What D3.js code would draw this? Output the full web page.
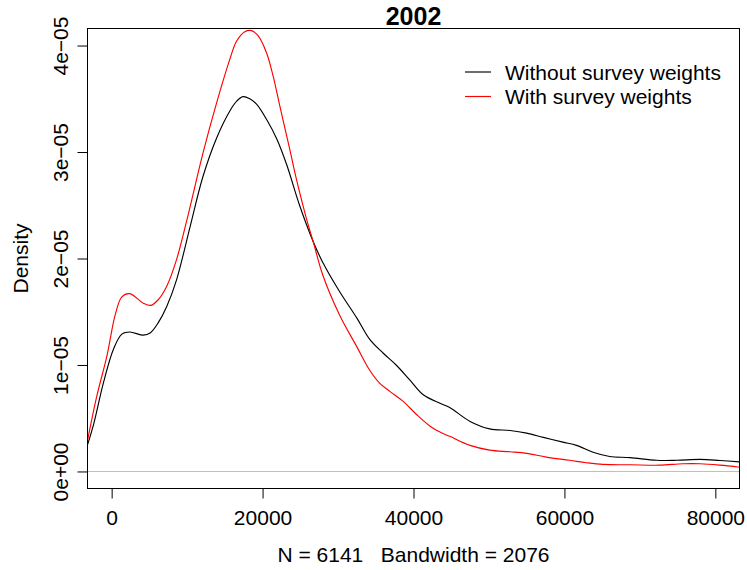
<!DOCTYPE html>
<html lang="en">

<head>
    <meta charset="UTF-8">
    <title>2002 income density</title>
    <script src="https://unpkg.com/d3@7.8.0/dist/d3.min.js"></script>

    <style>
        body {
            margin: 0px;
            background: #ffffff;
        }

        text {
            font-family: "Liberation Sans", Arial, Helvetica, sans-serif;
            fill: #000000;
        }
    </style>
</head>

<body>

    <script>
        // chart text
        const chartTitle = '2002';
        const xAxisLabel = 'N = 6141   Bandwidth = 2076';
        const yAxisLabel = 'Density';

        // legend
        const seriesNames = ['Without survey weights', 'With survey weights'];
        const seriesColors = ['#000000', '#ff0000'];

        // ticks
        const xTicks = [0, 20000, 40000, 60000, 80000];
        const yTicks = [0, 1e-5, 2e-5, 3e-5, 4e-5];
        const yTickLabels = ['0e+00', '1e\u221205', '2e\u221205', '3e\u221205', '4e\u221205'];

        // density without survey weights
        const unweightedX = [-3200, -2400, -1100, 250, 1350, 2400, 4200, 5100, 6200, 7300, 8600,
            10400, 12100, 13900, 15700, 16600, 17400, 18300, 19200, 20500, 21900, 23200, 24900,
            26700, 28000, 30200, 32500, 34200, 36000, 37700, 39500, 41300, 43500, 44800, 47500,
            50100, 52800, 55000, 57200, 59800, 61600, 63800, 66000, 68700, 72200, 74900, 78000,
            80600, 83200];
        const unweightedY = [0.25e-5, 0.44e-5, 0.83e-5, 1.15e-5, 1.29e-5, 1.31e-5, 1.28e-5, 1.30e-5,
            1.40e-5, 1.55e-5, 1.80e-5, 2.30e-5, 2.77e-5, 3.13e-5, 3.39e-5, 3.48e-5, 3.52e-5, 3.50e-5,
            3.45e-5, 3.31e-5, 3.12e-5, 2.88e-5, 2.50e-5, 2.16e-5, 1.96e-5, 1.69e-5, 1.44e-5, 1.24e-5,
            1.11e-5, 1.00e-5, 0.86e-5, 0.72e-5, 0.64e-5, 0.60e-5, 0.47e-5, 0.40e-5, 0.385e-5, 0.36e-5,
            0.32e-5, 0.275e-5, 0.245e-5, 0.18e-5, 0.14e-5, 0.13e-5, 0.105e-5, 0.105e-5, 0.113e-5,
            0.103e-5, 0.09e-5];

        // density with survey weights
        const weightedX = [-3200, -1960, -640, 470, 1350, 2400, 4200, 5200, 6200, 7300, 8600,
            10000, 12100, 13900, 15700, 16550, 17650, 18540, 19420, 20530, 21410, 22290, 23620,
            24500, 25830, 26700, 28000, 30200, 32500, 34200, 35500, 36900, 38600, 40400, 42200,
            43500, 44800, 47500, 50100, 52800, 55000, 57600, 60700, 62900, 65100, 68700, 72600,
            75700, 78000, 80600, 83200];
        const weightedY = [0.29e-5, 0.71e-5, 1.08e-5, 1.47e-5, 1.64e-5, 1.67e-5, 1.58e-5, 1.56e-5,
            1.615e-5, 1.74e-5, 1.99e-5, 2.37e-5, 2.99e-5, 3.46e-5, 3.88e-5, 4.04e-5, 4.13e-5, 4.14e-5,
            4.09e-5, 3.93e-5, 3.71e-5, 3.43e-5, 3.02e-5, 2.74e-5, 2.37e-5, 2.16e-5, 1.84e-5, 1.47e-5,
            1.17e-5, 0.95e-5, 0.83e-5, 0.75e-5, 0.66e-5, 0.535e-5, 0.425e-5, 0.37e-5, 0.33e-5,
            0.245e-5, 0.20e-5, 0.185e-5, 0.17e-5, 0.135e-5, 0.105e-5, 0.082e-5, 0.066e-5, 0.063e-5,
            0.059e-5, 0.072e-5, 0.072e-5, 0.059e-5, 0.04e-5];

        const width = 747;
        const height = 570;
        const margin = { top: 28.5, right: 7.5, bottom: 81.5, left: 87.5 };
        const fontSize = 21;

        render();

        function render() {
            const svg = d3.select('body').append('svg')
                .attr('width', width)
                .attr('height', height);

            const innerwidth = width - margin.left - margin.right;
            const innerheight = height - margin.top - margin.bottom;

            const g = svg.append('g')
                .attr('transform', `translate(${margin.left}, ${margin.top})`);

            // R style: data range padded by 4% on each side
            const xScale = d3.scaleLinear()
                .domain([-3200, 83200])
                .range([0, innerwidth]);

            const yScale = d3.scaleLinear()
                .domain([-0.16e-5, 4.16e-5])
                .range([innerheight, 0]);

            g.append('clipPath')
                .attr('id', 'plot-clip')
                .append('rect')
                .attr('width', innerwidth)
                .attr('height', innerheight);

            // zero line
            g.append('line')
                .attr('x1', 0)
                .attr('x2', innerwidth)
                .attr('y1', yScale(0))
                .attr('y2', yScale(0))
                .attr('stroke', '#bebebe')
                .attr('stroke-width', 1);

            // density curves
            const series = [
                { xs: unweightedX, ys: unweightedY, color: seriesColors[0] },
                { xs: weightedX, ys: weightedY, color: seriesColors[1] }
            ];

            const line = d3.line()
                .x(d => xScale(d[0]))
                .y(d => yScale(d[1]))
                .curve(d3.curveCatmullRom.alpha(0.5));

            g.append('g')
                .attr('clip-path', 'url(#plot-clip)')
                .selectAll('path')
                .data(series)
                .enter().append('path')
                .attr('d', s => line(d3.zip(s.xs, s.ys)))
                .attr('fill', 'none')
                .attr('stroke', s => s.color)
                .attr('stroke-width', 1.15);

            // X axis
            const xAxisG = g.append('g')
                .attr('transform', `translate(0, ${innerheight})`)
                .call(d3.axisBottom(xScale)
                    .tickValues(xTicks)
                    .tickFormat(d3.format('d'))
                    .tickSize(10));
            xAxisG.select('.domain').remove();
            xAxisG.selectAll('.tick line').attr('stroke', '#000');
            xAxisG.selectAll('.tick text')
                .attr('y', 36)
                .attr('dy', 0)
                .style('font-size', fontSize + 'px');

            // Y axis, labels rotated like R's las = 0
            const yAxisG = g.append('g')
                .call(d3.axisLeft(yScale)
                    .tickValues(yTicks)
                    .tickFormat((d, i) => yTickLabels[i])
                    .tickSize(10));
            yAxisG.select('.domain').remove();
            yAxisG.selectAll('.tick line').attr('stroke', '#000');
            yAxisG.selectAll('.tick text')
                .attr('transform', 'rotate(-90)')
                .attr('x', 0)
                .attr('y', -27)
                .attr('dy', '0.36em')
                .attr('text-anchor', 'middle')
                .style('font-size', fontSize + 'px');

            // box
            g.append('rect')
                .attr('width', innerwidth)
                .attr('height', innerheight)
                .attr('fill', 'none')
                .attr('stroke', '#000')
                .attr('stroke-width', 1);

            // title and axis labels
            svg.append('text')
                .attr('x', margin.left + innerwidth / 2)
                .attr('y', 25)
                .attr('text-anchor', 'middle')
                .style('font-size', '25px')
                .style('font-weight', 'bold')
                .text(chartTitle);

            svg.append('text')
                .attr('x', margin.left + innerwidth / 2)
                .attr('y', margin.top + innerheight + 66)
                .attr('dy', '0.36em')
                .attr('text-anchor', 'middle')
                .style('font-size', fontSize + 'px')
                .style('white-space', 'pre')
                .text(xAxisLabel);

            svg.append('text')
                .attr('transform', `translate(${margin.left - 67}, ${margin.top + innerheight / 2}) rotate(-90)`)
                .attr('dy', '0.36em')
                .attr('text-anchor', 'middle')
                .style('font-size', fontSize + 'px')
                .text(yAxisLabel);

            // legend, no box
            const legend = svg.append('g')
                .selectAll('g')
                .data(seriesNames)
                .enter().append('g')
                .attr('transform', (d, i) => `translate(465, ${72 + i * 24.5})`);

            legend.append('line')
                .attr('x1', 0)
                .attr('x2', 26)
                .attr('stroke', (d, i) => seriesColors[i])
                .attr('stroke-width', 1.15);

            legend.append('text')
                .attr('x', 40)
                .attr('dy', '0.36em')
                .style('font-size', fontSize + 'px')
                .text(d => d);
        }

    </script>

</body>

</html>
